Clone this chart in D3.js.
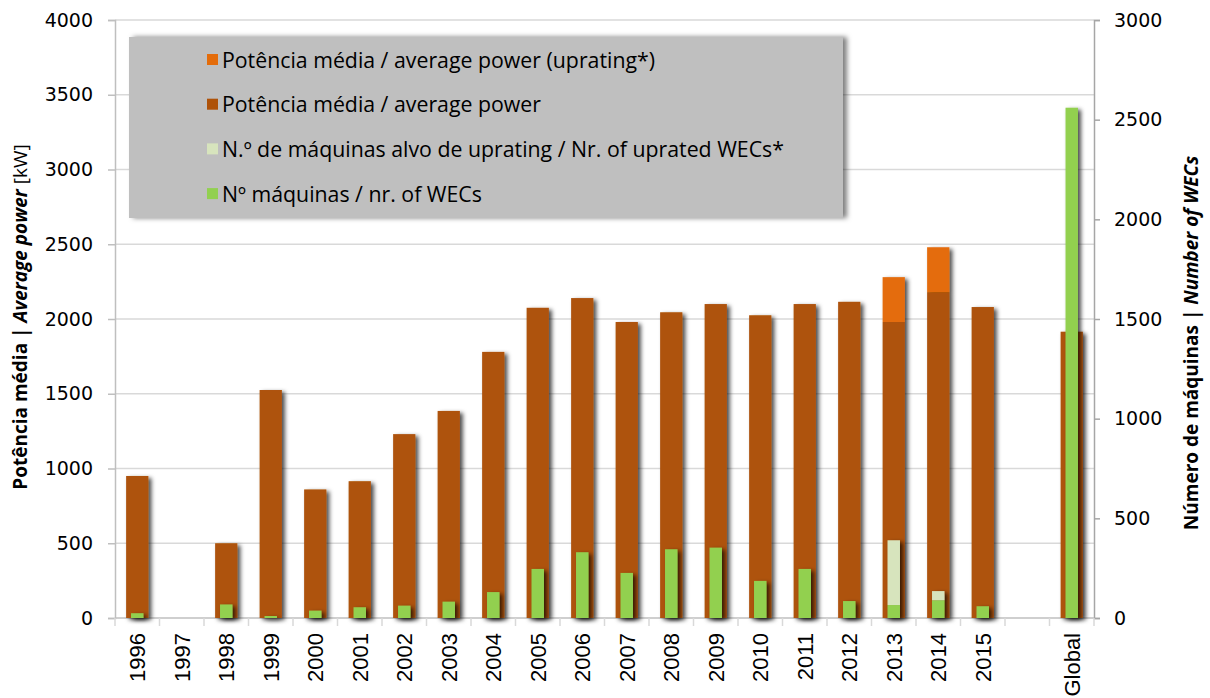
<!DOCTYPE html>
<html>
<head>
<meta charset="utf-8">
<script src="https://d3js.org/d3.v7.min.js"></script>
<style>
  html, body { margin: 0; padding: 0; background: #fff; }
  svg { display: block; }
</style>
</head>
<body>
<div id="chart"></div>
<script>
// Categories (empty slot before Global)
const categories = ['1996', '1997', '1998', '1999', '2000', '2001', '2002', '2003', '2004', '2005',
    '2006', '2007', '2008', '2009', '2010', '2011', '2012', '2013', '2014', '2015', '', 'Global'];

// Average power [kW] (left axis)
const avgPower = [950, 0, 500, 1525, 860, 915, 1230, 1385, 1780, 2075,
    2140, 1980, 2045, 2100, 2025, 2100, 2115, 1980, 2180, 2080, 0, 1915];
// Average power increase after uprating [kW], stacked on top
const avgPowerUprating = [0, 0, 0, 0, 0, 0, 0, 0, 0, 0,
    0, 0, 0, 0, 0, 0, 0, 300, 300, 0, 0, 0];

// Number of WECs (right axis)
const nrWecs = [24, 0, 68, 10, 37, 54, 62, 82, 130, 246,
    330, 226, 345, 353, 186, 246, 85, 65, 89, 59, 0, 2560];
// Number of uprated WECs, stacked on top
const nrUpratedWecs = [0, 0, 0, 0, 0, 0, 0, 0, 0, 0,
    0, 0, 0, 0, 0, 0, 0, 325, 46, 0, 0, 0];

const leftTicks = [0, 500, 1000, 1500, 2000, 2500, 3000, 3500, 4000];
const rightTicks = [0, 500, 1000, 1500, 2000, 2500, 3000];

const legendItems = [
    { label: 'Potência média / average power (uprating*)', color: '#E46C0A' },
    { label: 'Potência média / average power', color: '#AE5208' },
    { label: 'N.º de máquinas alvo de uprating / Nr. of uprated WECs*', color: '#D7E4BD' },
    { label: 'Nº máquinas / nr. of WECs', color: '#92D050' }
];

const width = 1210, height = 698;
const plot = { left: 115, right: 1094, top: 20, bottom: 618 };

const svg = d3.select('#chart').append('svg')
    .attr('width', width)
    .attr('height', height);

// Drop shadow used by bars and legend
const defs = svg.append('defs');
const shadow = defs.append('filter')
    .attr('id', 'shadow')
    .attr('x', '-30%').attr('y', '-10%')
    .attr('width', '170%').attr('height', '130%');
shadow.append('feDropShadow')
    .attr('dx', 3).attr('dy', 2)
    .attr('stdDeviation', 2)
    .attr('flood-color', '#000')
    .attr('flood-opacity', 0.7);

const legendShadow = defs.append('filter')
    .attr('id', 'legendShadow')
    .attr('x', '-5%').attr('y', '-10%')
    .attr('width', '110%').attr('height', '130%');
legendShadow.append('feDropShadow')
    .attr('dx', 4).attr('dy', 0)
    .attr('stdDeviation', 2.5)
    .attr('flood-color', '#000')
    .attr('flood-opacity', 0.5);

// Scales
const x = d3.scaleBand()
    .domain(categories)
    .range([plot.left, plot.right])
    .paddingInner(0.5)
    .paddingOuter(0.25);

const yLeft = d3.scaleLinear().domain([0, 4000]).range([plot.bottom, plot.top]);
const yRight = d3.scaleLinear().domain([0, 3000]).range([plot.bottom, plot.top]);

// Gridlines
svg.append('g')
    .selectAll('line')
    .data(leftTicks.filter(d => d > 0))
    .enter().append('line')
    .attr('x1', plot.left).attr('x2', plot.right)
    .attr('y1', d => yLeft(d)).attr('y2', d => yLeft(d))
    .attr('stroke', '#D9D9D9')
    .attr('stroke-width', 1.5);

// Left axis
const gLeft = svg.append('g')
    .attr('transform', `translate(${plot.left},0)`)
    .call(d3.axisLeft(yLeft).tickValues(leftTicks).tickSize(7).tickPadding(15).tickFormat(d3.format('d')));
gLeft.select('.domain').attr('stroke', '#BFBFBF').attr('stroke-width', 1.5);
gLeft.selectAll('.tick line').attr('stroke', '#BFBFBF').attr('stroke-width', 1.5);
gLeft.selectAll('.tick text')
    .attr('fill', '#000')
    .attr('font-family', 'DejaVu Sans, Verdana, sans-serif')
    .attr('font-size', '19px');

// Right axis
const gRight = svg.append('g')
    .attr('transform', `translate(${plot.right},0)`)
    .call(d3.axisRight(yRight).tickValues(rightTicks).tickSize(6).tickPadding(14).tickFormat(d3.format('d')));
gRight.select('.domain').attr('stroke', '#A6A6A6').attr('stroke-width', 1.5);
gRight.selectAll('.tick line').attr('stroke', '#A6A6A6').attr('stroke-width', 1.5);
gRight.selectAll('.tick text')
    .attr('fill', '#000')
    .attr('font-family', 'DejaVu Sans, Verdana, sans-serif')
    .attr('font-size', '19px');

// Bottom axis line and category boundary ticks
svg.append('line')
    .attr('x1', plot.left).attr('x2', plot.right)
    .attr('y1', plot.bottom).attr('y2', plot.bottom)
    .attr('stroke', '#BFBFBF').attr('stroke-width', 1.5);

const boundaries = categories.map(c => x(c) - x.step() * 0.25).concat([plot.right]);
svg.append('g')
    .selectAll('line')
    .data(boundaries)
    .enter().append('line')
    .attr('x1', d => d).attr('x2', d => d)
    .attr('y1', plot.bottom).attr('y2', plot.bottom + 8)
    .attr('stroke', '#D9D9D9').attr('stroke-width', 1.5);

// Category labels, rotated
svg.append('g')
    .selectAll('text')
    .data(categories)
    .enter().append('text')
    .attr('transform', d => `translate(${x(d) + x.bandwidth() / 2 + 8},633) rotate(-90)`)
    .attr('text-anchor', 'end')
    .attr('font-family', 'Liberation Sans, Arial, sans-serif')
    .attr('font-size', '22px')
    .attr('fill', '#000')
    .text(d => d);

// Power bars (stacked: base + uprating)
const powerStack = categories.map((c, i) => ({
    cat: c,
    base: avgPower[i],
    up: avgPowerUprating[i]
}));

const gPower = svg.append('g').attr('filter', 'url(#shadow)');
gPower.selectAll('.bar-base')
    .data(powerStack.filter(d => d.base > 0))
    .enter().append('rect')
    .attr('class', 'bar-base')
    .attr('x', d => x(d.cat))
    .attr('width', x.bandwidth())
    .attr('y', d => yLeft(d.base))
    .attr('height', d => yLeft(0) - yLeft(d.base))
    .attr('fill', '#AE5208');
gPower.selectAll('.bar-up')
    .data(powerStack.filter(d => d.up > 0))
    .enter().append('rect')
    .attr('class', 'bar-up')
    .attr('x', d => x(d.cat))
    .attr('width', x.bandwidth())
    .attr('y', d => yLeft(d.base + d.up))
    .attr('height', d => yLeft(d.base) - yLeft(d.base + d.up))
    .attr('fill', '#E46C0A');

// WEC bars, narrower and on top
const wecStack = categories.map((c, i) => ({
    cat: c,
    base: nrWecs[i],
    up: nrUpratedWecs[i]
}));
const wecWidth = x.bandwidth() * 0.56;
const wecOffset = (x.bandwidth() - wecWidth) / 2;

const gWec = svg.append('g').attr('filter', 'url(#shadow)');
gWec.selectAll('.wec-base')
    .data(wecStack.filter(d => d.base > 0))
    .enter().append('rect')
    .attr('class', 'wec-base')
    .attr('x', d => x(d.cat) + wecOffset)
    .attr('width', wecWidth)
    .attr('y', d => yRight(d.base))
    .attr('height', d => yRight(0) - yRight(d.base))
    .attr('fill', '#92D050');
gWec.selectAll('.wec-up')
    .data(wecStack.filter(d => d.up > 0))
    .enter().append('rect')
    .attr('class', 'wec-up')
    .attr('x', d => x(d.cat) + wecOffset)
    .attr('width', wecWidth)
    .attr('y', d => yRight(d.base + d.up))
    .attr('height', d => yRight(d.base) - yRight(d.base + d.up))
    .attr('fill', '#D7E4BD');

// Axis titles
const leftTitle = svg.append('text')
    .attr('transform', `translate(27,${(plot.top + plot.bottom) / 2 - 2}) rotate(-90)`)
    .attr('text-anchor', 'middle')
    .attr('font-family', 'Open Sans, sans-serif')
    .attr('font-size', '19px')
    .attr('font-weight', 'bold')
    .attr('fill', '#000');
leftTitle.append('tspan').text('Potência média | ');
leftTitle.append('tspan').attr('font-style', 'italic').text('Average power');
leftTitle.append('tspan').attr('font-weight', 'normal').text(' [kW]');

const rightTitle = svg.append('text')
    .attr('transform', `translate(1198,${(plot.top + plot.bottom) / 2 + 24}) rotate(-90)`)
    .attr('text-anchor', 'middle')
    .attr('font-family', 'Open Sans, sans-serif')
    .attr('font-size', '19px')
    .attr('font-weight', 'bold')
    .attr('fill', '#000');
rightTitle.append('tspan').text('Número de máquinas | ');
rightTitle.append('tspan').attr('font-style', 'italic').text('Number of WECs');

// Legend
const legend = svg.append('g');
legend.append('rect')
    .attr('x', 129).attr('y', 37)
    .attr('width', 714).attr('height', 181)
    .attr('fill', '#BFBFBF')
    .attr('filter', 'url(#legendShadow)');

const rows = legend.selectAll('.legend-row')
    .data(legendItems)
    .enter().append('g')
    .attr('class', 'legend-row')
    .attr('transform', (d, i) => `translate(207,${60 + i * 44.7})`);
rows.append('rect')
    .attr('x', 0).attr('y', -6)
    .attr('width', 11).attr('height', 11)
    .attr('fill', d => d.color);
rows.append('text')
    .attr('x', 15).attr('y', 7.5)
    .attr('font-family', 'Open Sans, sans-serif')
    .attr('font-size', '21.3px')
    .attr('fill', '#000')
    .text(d => d.label);
</script>
</body>
</html>
